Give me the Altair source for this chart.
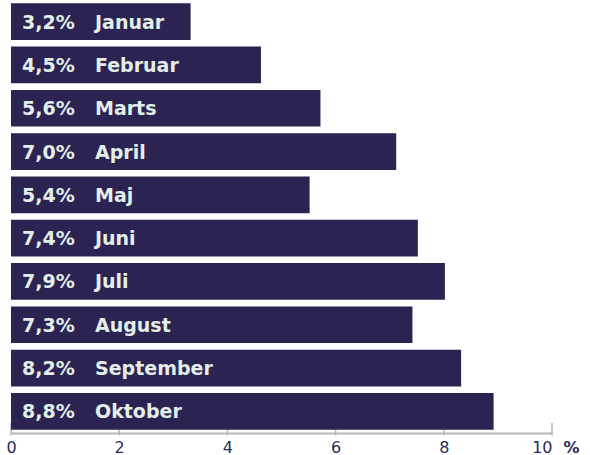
import altair as alt
import pandas as pd

months = ["Januar", "Februar", "Marts", "April", "Maj", "Juni", "Juli", "August", "September", "Oktober"]
values = [3.2, 4.5, 5.6, 7.0, 5.4, 7.4, 7.9, 7.3, 8.2, 8.8]
pct_labels = ["3,2%", "4,5%", "5,6%", "7,0%", "5,4%", "7,4%", "7,9%", "7,3%", "8,2%", "8,8%"]
tick_values = [0, 2, 4, 6, 8, 10]

df = pd.DataFrame({"month": months, "value": values, "pct": pct_labels})
ticks_df = pd.DataFrame({"t": tick_values})

BAR = "#2b2453"
TXT = "#e3eee8"

yenc = alt.Y("month:N", sort=months, axis=None,
             scale=alt.Scale(paddingInner=0.153, paddingOuter=0.0765))

xscale = alt.Scale(domain=[0, 10], nice=False)

xaxis = alt.Axis(values=tick_values, ticks=False, grid=False,
                 domainColor="#b5b5b5", domainWidth=2,
                 labelFont="DejaVu Sans", labelFontSize=16,
                 labelColor="#2e2a55", labelPadding=6,
                 labelAlign=alt.ExprRef("datum.value == 10 ? 'right' : 'center'"),
                 title="%", titleX=552, titleY=6, titleAlign="left",
                 titleBaseline="top", titleFont="DejaVu Sans", titlePadding=0,
                 titleFontSize=16, titleFontWeight="bold", titleColor="#2e2a55")

tick_rules = alt.Chart(ticks_df).mark_rule(color="#b5b5b5", strokeWidth=1.5).encode(
    x=alt.X("t:Q", scale=xscale, axis=xaxis),
    y=alt.value(423), y2=alt.value(435.5),
)

bars = alt.Chart(df).mark_bar(color=BAR, xOffset=6.5).encode(
    x=alt.X("value:Q", scale=xscale, axis=xaxis),
    x2=alt.datum(0),
    y=yenc,
)

pct_text = alt.Chart(df).mark_text(
    align="left", baseline="alphabetic", dy=7, font="DejaVu Sans",
    fontSize=19, fontWeight="bold", color=TXT
).encode(x=alt.value(11), y=yenc, text="pct:N")

month_text = alt.Chart(df).mark_text(
    align="left", baseline="alphabetic", dy=7, font="DejaVu Sans",
    fontSize=19, fontWeight="bold", color=TXT
).encode(x=alt.value(84), y=yenc, text="month:N")

chart = alt.layer(tick_rules, bars, pct_text, month_text).properties(
    width=541, height=433,
    autosize=alt.AutoSizeParams(type="none"),
    padding={"left": 11, "top": 0, "right": 38, "bottom": 30},
).configure_view(stroke=None)

chart.save("out.html", embed_options={"renderer": "svg", "actions": False})
